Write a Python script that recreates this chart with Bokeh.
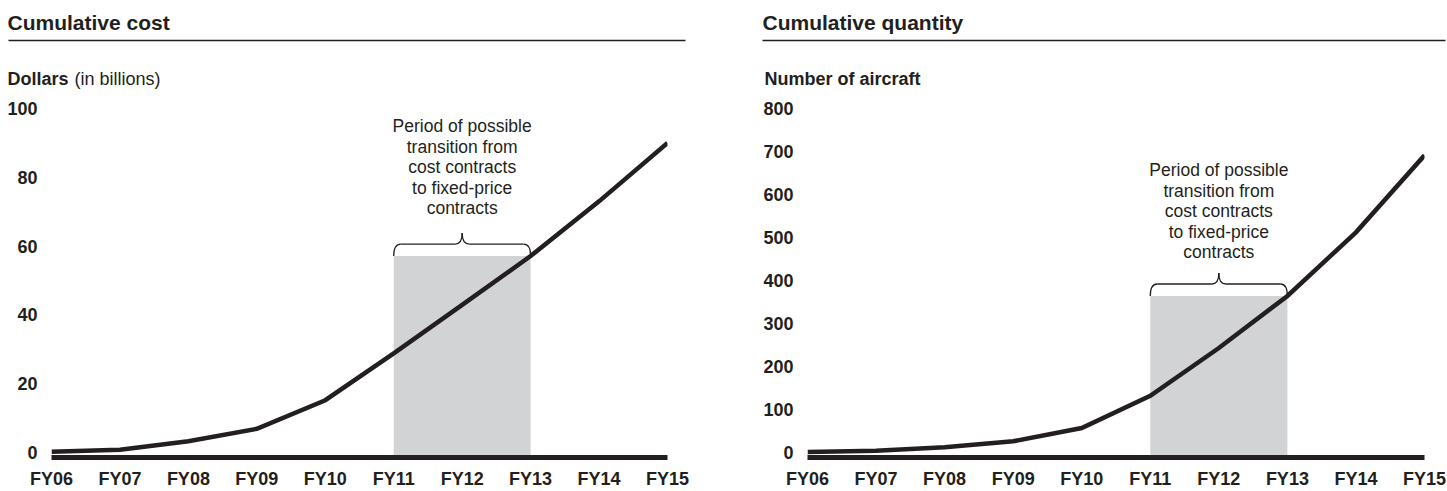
from bokeh.plotting import figure
from bokeh.layouts import row, column
from bokeh.models import Range1d, FixedTicker, LinearAxis
from bokeh.core.properties import value
from bokeh.embed import file_html
from bokeh.resources import INLINE

# ---------------- data ----------------
years = ["FY06", "FY07", "FY08", "FY09", "FY10", "FY11", "FY12", "FY13", "FY14", "FY15"]
cost = [0.2, 0.8, 3.3, 6.9, 15.2, 28.8, 42.9, 57.1, 73.0, 90.0]          # billions of dollars
quantity = [1, 4, 12, 26, 57, 132, 243, 364, 512, 691]                    # number of aircraft
cost_ticks = [0, 20, 40, 60, 80, 100]
qty_ticks = [0, 100, 200, 300, 400, 500, 600, 700, 800]
transition_start = "FY11"
transition_end = "FY13"
note_lines = ["Period of possible", "transition from", "cost contracts", "to fixed-price", "contracts"]

INK = "#231f20"
BOX = "#d1d3d4"
FONT = "Liberation Sans"

HEADER_H = 95
CHART_H = 396
FRAME_TOP_PAD = 0
FRAME_BOTTOM_PAD = 33


def header(width, title, bold_part, rest_part, title_x, rule_x0, rule_x1, axis_x, rest_dx):
    h = figure(width=width, height=HEADER_H, x_range=Range1d(0, width), y_range=Range1d(HEADER_H, 0),
               toolbar_location=None, output_backend="svg", x_axis_type=None, y_axis_type=None,
               min_border=0, frame_align=False)
    h.outline_line_color = None
    h.text(x=[title_x], y=[22], text=[title], text_font=value(FONT), text_font_style="bold",
           text_font_size="21px", text_color=INK, text_baseline="middle", text_align="left")
    h.segment(x0=[rule_x0], y0=[40], x1=[rule_x1], y1=[40], line_color=INK, line_width=1.5)
    h.text(x=[axis_x], y=[78], text=[bold_part], text_font=value(FONT), text_font_style="bold",
           text_font_size="18px", text_color=INK, text_baseline="middle", text_align="left")
    if rest_part:
        h.text(x=[axis_x + rest_dx], y=[78], text=[rest_part], text_font=value(FONT),
               text_font_size="18px", text_color=INK, text_baseline="middle", text_align="left")
    return h


def chart(width, values, ticks, px_per_unit, border_left, border_right, standoff, note_dy):
    frame_h = CHART_H - FRAME_TOP_PAD - FRAME_BOTTOM_PAD
    y0 = -5.0 / px_per_unit
    y1 = y0 + frame_h / px_per_unit
    n = len(years)
    xs = list(range(n))
    p = figure(width=width, height=CHART_H, x_range=Range1d(0, n - 1), y_range=Range1d(y0, y1),
               toolbar_location=None, output_backend="svg", x_axis_type=None, y_axis_type=None,
               min_border_left=border_left, min_border_right=border_right,
               min_border_top=FRAME_TOP_PAD, min_border_bottom=FRAME_BOTTOM_PAD, frame_align=False)
    p.outline_line_color = None
    p.background_fill_color = "white"

    yax = LinearAxis(ticker=FixedTicker(ticks=ticks))
    yax.axis_line_color = None
    yax.major_tick_in = 0
    yax.major_tick_out = 0
    yax.minor_tick_in = 0
    yax.minor_tick_out = 0
    yax.major_label_standoff = standoff
    yax.major_label_text_font = FONT
    yax.major_label_text_font_style = "bold"
    yax.major_label_text_font_size = "18px"
    yax.major_label_text_color = INK
    p.add_layout(yax, "left")

    xax = LinearAxis(ticker=FixedTicker(ticks=xs),
                     major_label_overrides={i: y for i, y in enumerate(years)})
    xax.axis_line_color = INK
    xax.axis_line_width = 5
    xax.major_tick_in = 0
    xax.major_tick_out = 0
    xax.minor_tick_in = 0
    xax.minor_tick_out = 0
    xax.major_label_standoff = 11
    xax.major_label_text_font = FONT
    xax.major_label_text_font_style = "bold"
    xax.major_label_text_font_size = "18px"
    xax.major_label_text_color = INK
    p.add_layout(xax, "below")

    i0 = years.index(transition_start)
    i1 = years.index(transition_end)
    top = values[i1]
    p.quad(left=[i0], right=[i1], bottom=[y0], top=[top], fill_color=BOX, line_color=None)

    p.line(x=xs, y=values, line_width=4.5, line_color=INK, line_join="miter")

    # curly brace above the transition box (shape in pixels, converted to data units)
    frame_w = width - border_left - border_right
    pxx = frame_w / (n - 1)

    def X(u):
        return i0 + u / pxx

    def Y(w):
        return top + w / px_per_unit

    mid = (i1 - i0) * pxx / 2.0
    full = (i1 - i0) * pxx
    hook, rise, tip = 7.0, 12.0, 23.0
    bx0 = [X(0), X(mid), X(mid), X(full)]
    by0 = [Y(0), Y(tip), Y(tip), Y(0)]
    bx1 = [X(hook), X(mid - hook), X(mid + hook), X(full - hook)]
    by1 = [Y(rise), Y(rise), Y(rise), Y(rise)]
    cx0 = [X(0), X(mid), X(mid), X(full)]
    cy0 = [Y(8), Y(17), Y(17), Y(8)]
    cx1 = [X(3), X(mid - 2), X(mid + 2), X(full - 3)]
    cy1 = [Y(rise), Y(rise), Y(rise), Y(rise)]
    p.bezier(x0=bx0, y0=by0, x1=bx1, y1=by1, cx0=cx0, cy0=cy0, cx1=cx1, cy1=cy1,
             line_color=INK, line_width=1.3)
    p.segment(x0=[X(hook), X(mid + hook)], y0=[Y(rise), Y(rise)],
              x1=[X(mid - hook), X(full - hook)], y1=[Y(rise), Y(rise)],
              line_color=INK, line_width=1.3)

    p.text(x=[(i0 + i1) / 2.0], y=[top], text=["\n".join(note_lines)], text_align="center",
           text_baseline="bottom", y_offset=note_dy, text_font=value(FONT),
           text_font_size="17.5px", text_line_height=1.02, text_color=INK)
    return p


h1 = header(752, "Cumulative cost", "Dollars", "(in billions)", 7, 8, 685, 7, 67)
c1 = chart(752, cost, cost_ticks, 3.45, 51, 85, 14, -38)
h2 = header(695, "Cumulative quantity", "Number of aircraft", "", 10, 10, 693, 12, 0)
c2 = chart(695, quantity, qty_ticks, 0.43125, 55, 23, 14, -34)

layout = row(column(h1, c1), column(h2, c2))
open("out.html", "w").write(file_html(layout, INLINE))
